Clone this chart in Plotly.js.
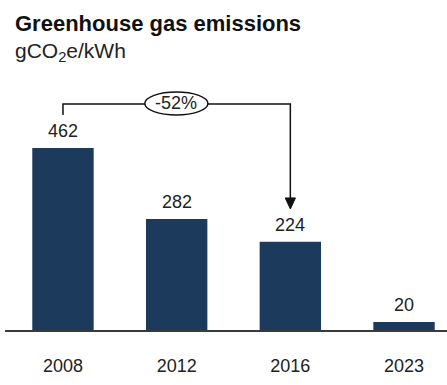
<!DOCTYPE html>
<html>
<head>
<meta charset="utf-8">
<script src="https://cdn.plot.ly/plotly-3.0.1.min.js"></script>
<style>html,body{margin:0;padding:0;background:#fff;}#chart{width:447px;height:385px;}</style>
</head>
<body>
<div id="chart"></div>
<script>
const years = ['2008', '2012', '2016', '2023'];
const emissions = [462, 282, 224, 20];
const changeLabel = '-52%';
const changeFrom = 0; // index of 2008
const changeTo = 2;   // index of 2016

const FONT = 'Liberation Sans, Arial, sans-serif';
const TXT = '#222222';
const idx = years.map((_, i) => i);

const trace = {
  type: 'bar',
  x: idx,
  y: emissions,
  width: 0.54,
  marker: {color: '#1b3a5c'},
  hoverinfo: 'skip'
};

const valueAnns = emissions.map((v, i) => ({
  x: i, y: v, xref: 'x', yref: 'y',
  text: String(v), showarrow: false,
  yanchor: 'middle', yshift: 17,
  font: {family: FONT, size: 18, color: TXT}
}));

const bracketY = 573.7;
const leftEndY = 545.8;
const arrowTipY = 307.2;
const headH = 28;    // arrow head length (y units)
const headW = 0.045; // half arrow head width (x units)

const layout = {
  width: 447, height: 385,
  margin: {l: 5, r: 0, t: 80, b: 55},
  paper_bgcolor: '#ffffff', plot_bgcolor: '#ffffff',
  showlegend: false,
  font: {family: FONT, size: 18, color: TXT},
  xaxis: {
    type: 'linear',
    range: [-0.51, 3.378],
    tickvals: idx, ticktext: years,
    showgrid: false, zeroline: false,
    showline: true, linecolor: '#3a3a3a', linewidth: 2,
    ticks: 'outside', ticklen: 18, tickcolor: 'rgba(0,0,0,0)',
    tickfont: {family: FONT, size: 18, color: TXT},
    fixedrange: true
  },
  yaxis: {
    range: [0, 634.6],
    visible: false, showgrid: false, zeroline: false,
    fixedrange: true
  },
  shapes: [
    {type: 'path', xref: 'x', yref: 'y',
     path: `M ${changeFrom},${leftEndY} L ${changeFrom},${bracketY} L ${changeTo},${bracketY} L ${changeTo},${arrowTipY + headH}`,
     line: {color: '#111111', width: 1.5}, layer: 'above'},
    {type: 'path', xref: 'x', yref: 'y',
     path: `M ${changeTo - headW},${arrowTipY + headH} L ${changeTo + headW},${arrowTipY + headH} L ${changeTo},${arrowTipY} Z`,
     fillcolor: '#111111', line: {color: '#111111', width: 1}, layer: 'above'},
    {type: 'circle', xref: 'x', yref: 'y',
     x0: 0.72, x1: 1.275, y0: 545.8, y1: 604.2,
     fillcolor: '#ffffff', line: {color: '#111111', width: 1.5}, layer: 'above'}
  ],
  annotations: valueAnns.concat([
    {x: 0.9975, y: 575, xref: 'x', yref: 'y', text: changeLabel, showarrow: false,
     xanchor: 'center', yanchor: 'middle',
     font: {family: FONT, size: 18, color: TXT}},
    {x: 0.018, y: 1.226, xref: 'paper', yref: 'paper', xanchor: 'left', yanchor: 'middle',
     text: '<b>Greenhouse gas emissions</b>', showarrow: false,
     font: {family: FONT, size: 22, color: '#111111'}},
    {x: 0.018, y: 1.11, xref: 'paper', yref: 'paper', xanchor: 'left', yanchor: 'middle',
     text: 'gCO<sub>2</sub>e/kWh', showarrow: false,
     font: {family: FONT, size: 21, color: TXT}}
  ])
};

Plotly.newPlot('chart', [trace], layout, {displayModeBar: false, staticPlot: true});
</script>
</body>
</html>
